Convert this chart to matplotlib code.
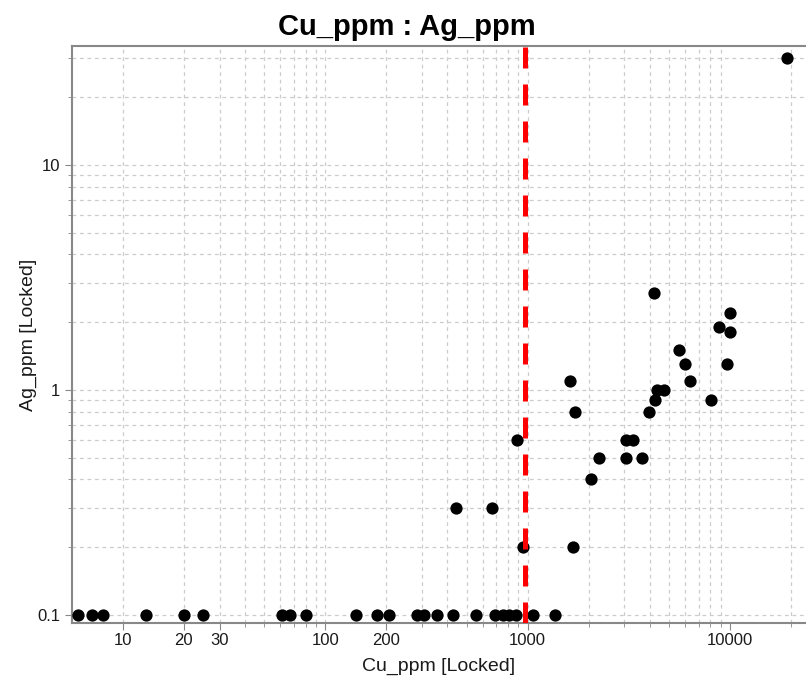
import matplotlib
matplotlib.use("Agg")
import matplotlib.pyplot as plt
from matplotlib.ticker import FixedLocator, NullFormatter

plt.rcParams['font.family'] = ['Liberation Sans', 'DejaVu Sans']

# Data
cu_ppm = [6, 7, 8, 13, 20, 25, 61, 67, 80, 142, 179, 207, 285, 306, 358, 425,
          553, 687, 755, 805, 873, 1059, 1362,
          4190, 10000, 8830, 10000, 5600, 6000, 9660, 1615, 6310, 4365, 4730,
          4270, 8020, 1722, 3963, 890, 3069, 3311, 2245, 3069, 3664, 2056,
          440, 665, 948, 1683, 19100]
ag_ppm = [0.1] * 23 + [
    2.7, 2.2, 1.9, 1.8, 1.5, 1.3, 1.3, 1.1, 1.1, 1.0, 1.0,
    0.9, 0.9, 0.8, 0.8, 0.6, 0.6, 0.6, 0.5, 0.5, 0.5, 0.4,
    0.3, 0.3, 0.2, 0.2, 30]
threshold = 965

x_tick_vals = [10, 20, 30, 100, 200, 1000, 10000]
x_tick_labels = ["10", "20", "30", "100", "200", "1000", "10000"]
y_tick_vals = [0.1, 1, 10]
y_tick_labels = ["0.1", "1", "10"]

x_grid = [m * 10 ** e for e in (1, 2, 3) for m in range(1, 10)] + [20000]
y_grid = [m * 10 ** e for e in (-1, 0) for m in range(1, 10)] + [10, 20, 30]

fig = plt.figure(figsize=(8.06, 6.81), dpi=100)
ax = fig.add_axes([72 / 806, 1 - 623 / 681, 1 - 72 / 806 - 0.001, (623 - 46) / 681])
ax.set_xscale('log')
ax.set_yscale('log')
ax.set_xlim(5.6, 23500)
ax.set_ylim(0.092, 33.8)

for gx in x_grid:
    ax.axvline(gx, color='#cccccc', lw=0.9, ls=(0, (3, 3)), zorder=0)
for gy in y_grid:
    ax.axhline(gy, color='#cccccc', lw=0.9, ls=(0, (3, 3)), zorder=0)

ax.scatter(cu_ppm, ag_ppm, s=78, color='black', zorder=3, linewidths=0)
ax.axvline(threshold, color='#ff0000', lw=3.6, dashes=(4.2, 3.2), zorder=4)

ax.xaxis.set_major_locator(FixedLocator(x_tick_vals))
ax.set_xticklabels(x_tick_labels)
ax.xaxis.set_minor_locator(FixedLocator(x_grid))
ax.xaxis.set_minor_formatter(NullFormatter())
ax.yaxis.set_major_locator(FixedLocator(y_tick_vals))
ax.set_yticklabels(y_tick_labels)
ax.yaxis.set_minor_locator(FixedLocator(y_grid))
ax.yaxis.set_minor_formatter(NullFormatter())

ax.tick_params(which='major', length=5, color='#888888', labelsize=12, labelcolor='#1a1a1a')
ax.tick_params(axis='x', which='major', pad=2)
ax.tick_params(which='minor', length=3, color='#888888')

for side in ('left', 'bottom', 'top'):
    ax.spines[side].set_color('#888888')
    ax.spines[side].set_linewidth(1.5)
ax.spines['right'].set_visible(False)

ax.set_xlabel("Cu_ppm [Locked]", fontsize=14, color='#1a1a1a', labelpad=7)
ax.set_ylabel("Ag_ppm [Locked]", fontsize=14, color='#1a1a1a', labelpad=0)
fig.text(0.505, 1 - 35 / 681, "Cu_ppm : Ag_ppm", fontsize=21, fontweight='bold',
         ha='center', va='baseline')

fig.savefig("out.png", dpi=100)
